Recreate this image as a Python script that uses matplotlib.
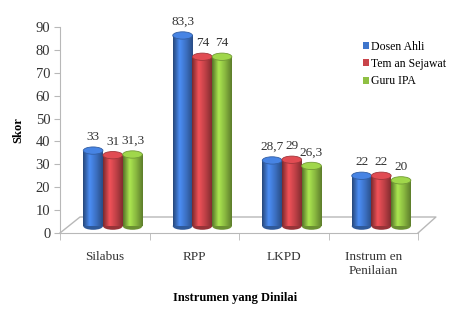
import numpy as np
import matplotlib.pyplot as plt
from matplotlib.patches import Ellipse, Patch
from matplotlib.colors import LinearSegmentedColormap, to_rgb

categories = ['Silabus', 'RPP', 'LKPD', 'Instrum en\nPenilaian']
series_names = ['Dosen Ahli', 'Tem an Sejawat', 'Guru IPA']
dosen_ahli = [33, 83.3, 28.7, 22]
teman_sejawat = [31, 74, 29, 22]
guru_ipa = [31.3, 74, 26.3, 20]
yticks = list(range(0, 100, 10))

colors = ['#3F76CC', '#C9444A', '#8FC043']
font = 'Liberation Serif'
grid_col = '#B8B8B8'

fig = plt.figure(figsize=(4.54, 3.14), dpi=100)
ax = fig.add_axes([60 / 454, 1 - 233 / 314, 358 / 454, 206 / 314])

x = np.arange(len(categories))
bw = 0.22
shift = 0.09     # 3d depth: bars sit back on the floor
depth = 3.0
grad = np.linspace(0, 1, 64).reshape(1, -1)


def shade_cmap(c):
    r = np.array(to_rgb(c))
    return LinearSegmentedColormap.from_list(
        'cyl', [r * 0.6, np.clip(r * 1.2, 0, 1), r * 0.95, r * 0.65])


for i, vals in enumerate([dosen_ahli, teman_sejawat, guru_ipa]):
    c = colors[i]
    cm = shade_cmap(c)
    bars = ax.bar(x + shift + (i - 1) * bw, vals, bw, bottom=depth,
                  facecolor='none', edgecolor='none', zorder=2)
    for b, v in zip(bars, vals):
        x0, y0, w, h = b.get_x(), b.get_y(), b.get_width(), b.get_height()
        cx = x0 + w / 2
        bot = Ellipse((cx, y0), w, 3.2, facecolor=np.array(to_rgb(c)) * 0.75,
                      edgecolor='none', zorder=1.9)
        ax.add_patch(bot)
        im = ax.imshow(grad, extent=(x0, x0 + w, y0, y0 + h), aspect='auto',
                       cmap=cm, zorder=2, interpolation='bilinear')
        im.set_clip_path(b)
        top = Ellipse((cx, y0 + h), w, 3.2,
                      facecolor=np.clip(np.array(to_rgb(c)) * 1.12, 0, 1),
                      edgecolor=np.array(to_rgb(c)) * 0.8, lw=0.6, zorder=3)
        ax.add_patch(top)
        ax.text(cx, y0 + h + 3.2, f'{v:g}'.replace('.', ','), ha='center',
                va='bottom', fontsize=9.5, family=font, color='#333333',
                clip_on=False)

ax.set_xlim(-0.5, 3.5)
ax.set_ylim(0, 90)
ax.set_yticks(yticks)
ax.set_yticklabels([str(t) for t in yticks], family=font, fontsize=10.5, color='#333333')
ax.set_xticks(x)
ax.set_xticklabels(categories, family=font, fontsize=9.5, color='#333333')
ax.set_xticks(np.arange(-0.5, 4, 1), minor=True)
ax.tick_params(axis='x', which='major', length=0, pad=13)
ax.tick_params(axis='x', which='minor', length=5, color=grid_col)
ax.tick_params(axis='y', length=4, color=grid_col, pad=3)

for s in ['top', 'right']:
    ax.spines[s].set_visible(False)
for s in ['left', 'bottom']:
    ax.spines[s].set_color(grid_col)

# floor of the 3d chart
tr = ax.transAxes
fx, fy = 20 / 358, 16 / 206
ax.plot([0, fx, 1 + 0.05, 1], [0, fy, fy, 0], color=grid_col, lw=1,
        transform=tr, clip_on=False, zorder=1)

ax.set_ylabel('Skor', family=font, fontweight='bold', fontsize=9, labelpad=8)
fig.text(235 / 454, 1 - 298 / 314, 'Instrumen yang Dinilai', family=font,
         fontweight='bold', fontsize=9, ha='center', va='center')

handles = [Patch(facecolor=c, edgecolor='none') for c in colors]
fig.legend(handles, series_names, loc='upper left',
           bbox_to_anchor=(352 / 454, 1 - 30 / 314), frameon=False,
           prop={'family': font, 'size': 8.5}, handlelength=0.55,
           handleheight=0.55, handletextpad=0.2, labelspacing=0.45)

fig.savefig('out.png', dpi=100)
